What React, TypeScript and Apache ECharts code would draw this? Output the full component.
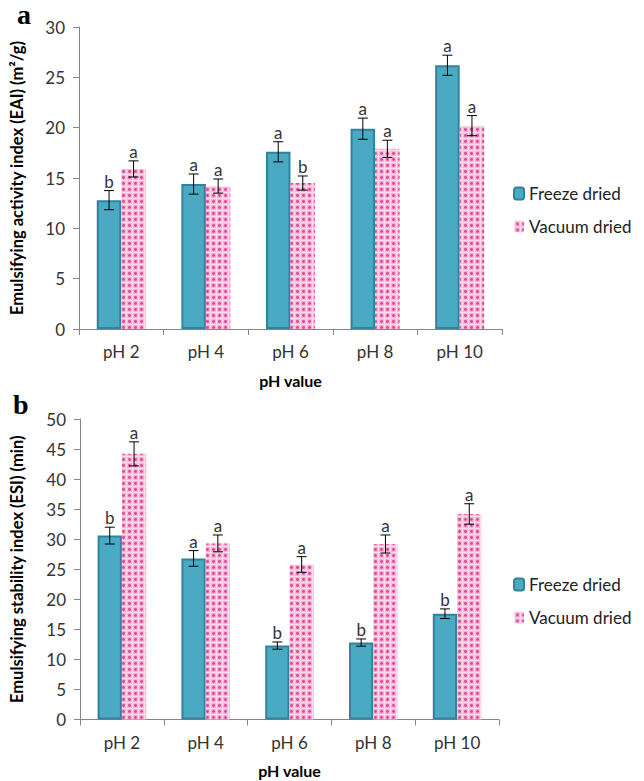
import React, { useEffect, useRef } from 'react';
import * as echarts from 'echarts';

const categories = ['pH 2', 'pH 4', 'pH 6', 'pH 8', 'pH 10'];

const eaiFreeze = [12.8, 14.4, 17.6, 19.9, 26.2];
const eaiFreezeErr = [0.95, 1.0, 1.0, 1.05, 1.0];
const eaiFreezeLetters = ['b', 'a', 'a', 'a', 'a'];
const eaiVacuum = [15.9, 14.2, 14.5, 17.9, 20.2];
const eaiVacuumErr = [0.8, 0.7, 0.7, 0.85, 1.0];
const eaiVacuumLetters = ['a', 'a', 'b', 'a', 'a'];

const esiFreeze = [30.6, 26.8, 12.3, 12.8, 17.6];
const esiFreezeErr = [1.4, 1.3, 0.6, 0.6, 0.8];
const esiFreezeLetters = ['b', 'a', 'b', 'b', 'b'];
const esiVacuum = [44.2, 29.3, 25.8, 29.2, 34.2];
const esiVacuumErr = [2.0, 1.4, 1.3, 1.5, 1.7];
const esiVacuumLetters = ['a', 'a', 'a', 'a', 'a'];

const seriesNames = ['Freeze dried', 'Vacuum dried'];
const eaiAxis = { min: 0, max: 30, interval: 5 };
const esiAxis = { min: 0, max: 50, interval: 5 };

const BAR_FRAC = 0.29;
const FONT = 'Lato';

function makePattern(): any {
  const c = document.createElement('canvas');
  c.width = 6;
  c.height = 6;
  const ctx = c.getContext('2d')!;
  ctx.fillStyle = '#f5b6d4';
  ctx.fillRect(0, 0, 6, 6);
  ctx.fillStyle = '#fbdcec';
  ctx.fillRect(0, 0, 1, 6);
  ctx.fillRect(0, 0, 6, 1);
  ctx.fillStyle = '#e2409a';
  ctx.beginPath();
  ctx.arc(3.5, 3.5, 1.4, 0, Math.PI * 2);
  ctx.fill();
  return { image: c, repeat: 'repeat', imageWidth: 6, imageHeight: 6 };
}

function errSeries(gi: number, vals: number[], errs: number[], letters: string[], side: number) {
  return {
    type: 'custom',
    xAxisIndex: gi,
    yAxisIndex: gi,
    z: 10,
    silent: true,
    encode: { x: 0, y: 1 },
    data: vals.map((v, i) => [i, v, errs[i]]),
    renderItem: (params: any, api: any) => {
      const idx = api.value(0);
      const v = api.value(1);
      const e = api.value(2);
      const band = api.size([1, 0])[0];
      const off = (side * band * BAR_FRAC) / 2;
      const top = api.coord([idx, v + e]);
      const bot = api.coord([idx, v - e]);
      const x = top[0] + off;
      const cap = 5;
      const ls = { stroke: '#000', lineWidth: 1 };
      return {
        type: 'group',
        children: [
          { type: 'line', shape: { x1: x, y1: top[1], x2: x, y2: bot[1] }, style: ls },
          { type: 'line', shape: { x1: x - cap, y1: top[1], x2: x + cap, y2: top[1] }, style: ls },
          { type: 'line', shape: { x1: x - cap, y1: bot[1], x2: x + cap, y2: bot[1] }, style: ls },
          {
            type: 'text',
            x: x,
            y: top[1] - 1,
            style: {
              text: letters[params.dataIndex],
              font: `17px ${FONT}`,
              fill: '#333',
              textAlign: 'center',
              textVerticalAlign: 'bottom',
              align: 'center',
              verticalAlign: 'bottom',
            },
          },
        ],
      };
    },
  };
}

export default function App() {
  const ref = useRef<HTMLDivElement>(null);
  useEffect(() => {
    if (!ref.current) return;
    const chart = echarts.init(ref.current, undefined, { renderer: 'svg' });
    const pattern = makePattern();
    const freezeStyle = { color: '#4aaac4', borderColor: '#31829a', borderWidth: 2 };
    const vacStyle = { color: pattern };
    const axisLine = { show: true, lineStyle: { color: '#868686', width: 1 } };
    const axisTick = { show: true, length: 6, lineStyle: { color: '#868686' } };
    const axisLabel = { color: '#333', fontFamily: FONT, fontSize: 17 };
    const grids = [
      { left: 79, top: 27, width: 423, height: 302 },
      { left: 77, top: 419, width: 422, height: 300.5 },
    ];
    const xAxis = grids.map((_, gi) => ({
      type: 'category',
      gridIndex: gi,
      data: categories,
      axisLine,
      axisTick,
      axisLabel: { ...axisLabel, margin: 14 },
      name: 'pH value',
      nameLocation: 'middle',
      nameGap: 43,
      nameTextStyle: { fontFamily: FONT, fontWeight: 'bold', fontSize: 16, color: '#000' },
    }));
    const yNames = ['Emulsifying activity index (EAI) (m²/g)', 'Emulsifying stability index (ESI) (min)'];
    const yAxis = [eaiAxis, esiAxis].map((a, gi) => ({
      type: 'value',
      gridIndex: gi,
      min: a.min,
      max: a.max,
      interval: a.interval,
      splitLine: { show: false },
      axisLine,
      axisTick,
      axisLabel: { ...axisLabel, margin: 14 },
      name: yNames[gi],
      nameLocation: 'middle',
      nameGap: gi === 0 ? 54 : 55,
      nameTextStyle: { fontFamily: FONT, fontWeight: 'bold', fontSize: 16.5, color: '#000' },
    }));
    const barCommon = { type: 'bar', barWidth: `${BAR_FRAC * 100}%`, barGap: '0%' };
    const legendCommon = {
      orient: 'vertical',
      left: 508,
      itemWidth: 10,
      itemHeight: 12,
      itemGap: 16,
      data: seriesNames,
      textStyle: { fontFamily: FONT, fontSize: 17, color: '#222' },
      selectedMode: false,
    };
    chart.setOption({
      animation: false,
      grid: grids,
      xAxis,
      yAxis,
      legend: [
        { ...legendCommon, top: 180 },
        { ...legendCommon, top: 571 },
      ],
      graphic: [
        { type: 'text', left: 17, top: 0, style: { text: 'a', font: 'bold 28px "Liberation Serif"', fill: '#000' } },
        { type: 'text', left: 13, top: 390, style: { text: 'b', font: 'bold 28px "Liberation Serif"', fill: '#000' } },
      ],
      series: [
        { ...barCommon, name: seriesNames[0], xAxisIndex: 0, yAxisIndex: 0, data: eaiFreeze, itemStyle: freezeStyle },
        { ...barCommon, name: seriesNames[1], xAxisIndex: 0, yAxisIndex: 0, data: eaiVacuum, itemStyle: vacStyle },
        { ...barCommon, name: seriesNames[0], xAxisIndex: 1, yAxisIndex: 1, data: esiFreeze, itemStyle: freezeStyle },
        { ...barCommon, name: seriesNames[1], xAxisIndex: 1, yAxisIndex: 1, data: esiVacuum, itemStyle: vacStyle },
        errSeries(0, eaiFreeze, eaiFreezeErr, eaiFreezeLetters, -1),
        errSeries(0, eaiVacuum, eaiVacuumErr, eaiVacuumLetters, 1),
        errSeries(1, esiFreeze, esiFreezeErr, esiFreezeLetters, -1),
        errSeries(1, esiVacuum, esiVacuumErr, esiVacuumLetters, 1),
      ],
    } as any);
    return () => chart.dispose();
  }, []);
  return (
    <div
      ref={ref}
      style={{ position: 'absolute', left: 0, top: 0, width: 644, height: 781, background: '#fff' }}
    />
  );
}
